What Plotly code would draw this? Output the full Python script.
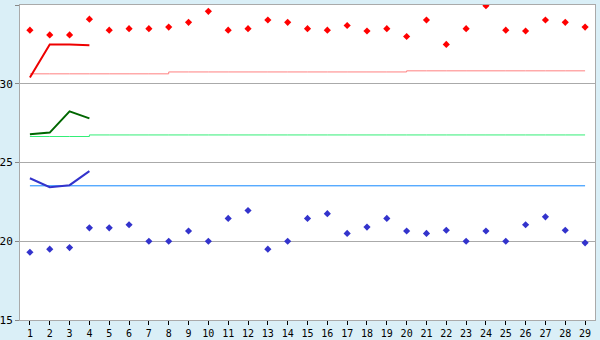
import plotly.graph_objects as go

days = list(range(1, 30))
red_points = [33.4, 33.1, 33.1, 34.1, 33.4, 33.5, 33.5, 33.6, 33.9, 34.6,
              33.4, 33.5, 34.05, 33.9, 33.5, 33.4, 33.7, 33.35, 33.5, 33.0,
              34.05, 32.5, 33.5, 34.95, 33.4, 33.35, 34.05, 33.9, 33.6]
blue_points = [19.3, 19.5, 19.6, 20.85, 20.85, 21.05, 20.0, 20.0, 20.65, 20.0,
               21.45, 21.95, 19.5, 20.0, 21.45, 21.75, 20.5, 20.9, 21.45, 20.65,
               20.5, 20.7, 20.0, 20.65, 20.0, 21.05, 21.55, 20.7, 19.9]
line_days = [1, 2, 3, 4]
red_line = [30.4, 32.5, 32.5, 32.45]
green_line = [26.8, 26.9, 28.25, 27.8]
blue_line = [24.0, 23.43, 23.56, 24.45]
red_thin = [30.63] * 7 + [30.75] * 12 + [30.82] * 10
green_thin = [26.65] * 3 + [26.75] * 26
blue_thin = [23.52] * 29
y_ticks = [15, 20, 25, 30, 35]

fig = go.Figure()
fig.add_trace(go.Scatter(x=days, y=red_thin, mode="lines",
                         line=dict(color="#ff8080", width=1, shape="hv"), hoverinfo="skip"))
fig.add_trace(go.Scatter(x=days, y=green_thin, mode="lines",
                         line=dict(color="#33ee77", width=1, shape="hv"), hoverinfo="skip"))
fig.add_trace(go.Scatter(x=days, y=blue_thin, mode="lines",
                         line=dict(color="#1188ff", width=1), hoverinfo="skip"))
fig.add_trace(go.Scatter(x=line_days, y=red_line, mode="lines",
                         line=dict(color="#ee0000", width=2)))
fig.add_trace(go.Scatter(x=line_days, y=green_line, mode="lines",
                         line=dict(color="#006600", width=2)))
fig.add_trace(go.Scatter(x=line_days, y=blue_line, mode="lines",
                         line=dict(color="#3333cc", width=2)))
fig.add_trace(go.Scatter(x=days, y=red_points, mode="markers",
                         marker=dict(symbol="diamond", size=5.5, color="#ff0000")))
fig.add_trace(go.Scatter(x=days, y=blue_points, mode="markers",
                         marker=dict(symbol="diamond", size=5.5, color="#3333cc")))

font = dict(family="DejaVu Sans Mono", size=11, color="#000000")
xfont = dict(family="DejaVu Sans Mono", size=10, color="#000000")
fig.update_layout(
    width=600, height=340,
    margin=dict(l=20, r=5, t=5, b=20),
    paper_bgcolor="#daeff7",
    plot_bgcolor="#ffffff",
    showlegend=False,
    font=font,
    xaxis=dict(range=[0.5, 29.5], tickvals=days, ticktext=[str(d) for d in days],
               showgrid=False, zeroline=False, showline=True, linecolor="#aaaaaa",
               mirror=True, ticks="outside", ticklen=4, tickcolor="#000000",
               tickfont=xfont, fixedrange=True, automargin=False),
    yaxis=dict(range=[15, 35], tickvals=y_ticks, showgrid=True, gridcolor="#aaaaaa",
               gridwidth=1, zeroline=False, showline=True, linecolor="#aaaaaa",
               mirror=True, ticks="outside", ticklen=4, tickcolor="#888888",
               tickfont=font, fixedrange=True, automargin=False),
)
fig.write_html("out.html")
